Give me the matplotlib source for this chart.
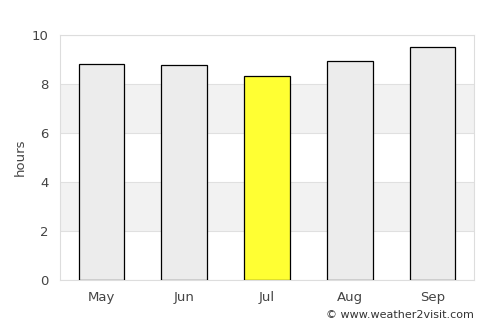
import matplotlib
matplotlib.use("Agg")
import matplotlib.pyplot as plt

months = ["May", "Jun", "Jul", "Aug", "Sep"]
hours = [8.82, 8.76, 8.33, 8.94, 9.51]
highlight = "Jul"
yticks = [0, 2, 4, 6, 8, 10]

fig = plt.figure(figsize=(5.0, 3.25), dpi=100)
ax = fig.add_axes([0.12, 0.138, 0.828, 0.754])

for lo in [2, 6]:
    ax.axhspan(lo, lo + 2, color="#f2f2f2", zorder=0, lw=0)
for t in yticks:
    ax.axhline(t, color="#e0e0e0", lw=0.8, zorder=1)

colors = ["#ffff33" if m == highlight else "#ececec" for m in months]
ax.bar(range(len(months)), hours, width=0.55, color=colors, edgecolor="black", linewidth=0.9, zorder=3)

ax.set_xlim(-0.5, len(months) - 0.5)
ax.set_ylim(0, 10)
ax.set_yticks(yticks)
ax.set_xticks(range(len(months)))
ax.set_xticklabels(months)
ax.set_ylabel("hours", color="#444444", fontsize=9.5)
ax.tick_params(axis="both", length=0, colors="#444444", labelsize=9.5, pad=8)
for s in ax.spines.values():
    s.set_color("#dddddd")
    s.set_linewidth(0.8)

fig.text(0.948, 0.015, "© www.weather2visit.com", ha="right", va="bottom", fontsize=8, color="#333333")

fig.savefig("out.png", dpi=100)
